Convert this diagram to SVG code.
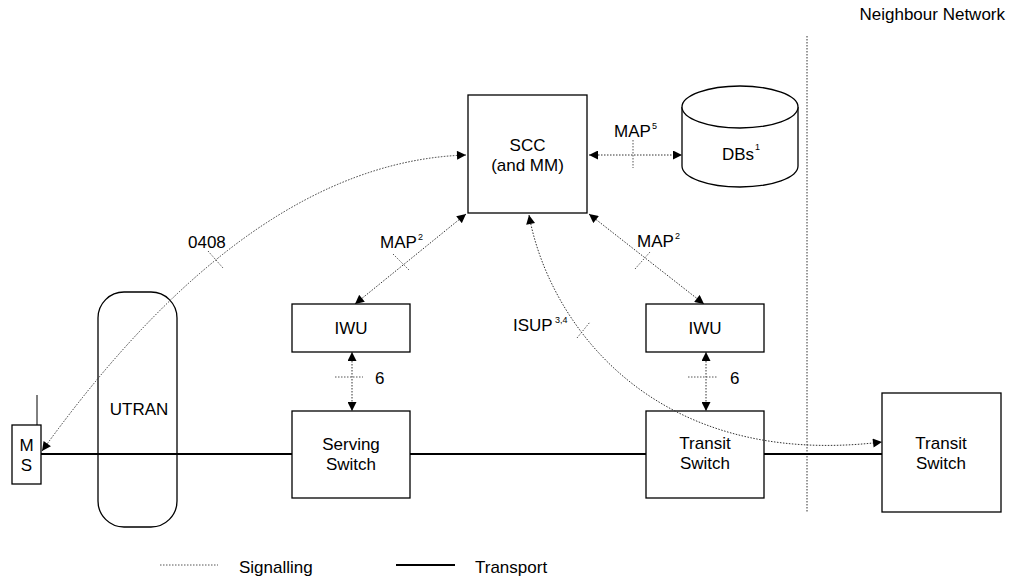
<svg xmlns="http://www.w3.org/2000/svg" width="1009" height="576" viewBox="0 0 1009 576">
<defs>
<marker id="ah" viewBox="0 0 10 10" markerUnits="userSpaceOnUse" markerWidth="10" markerHeight="9" refX="10" refY="5" orient="auto-start-reverse">
<path d="M0,0 L10,5 L0,10 z" fill="#000"/>
</marker>
<style>
.box{fill:#fff;stroke:#000;stroke-width:1.3}
.shape{fill:none;stroke:#000;stroke-width:1.3}
.sig{fill:none;stroke:#333;stroke-width:1;stroke-dasharray:1.5 1.5}
.tick{fill:none;stroke:#555;stroke-width:1;stroke-dasharray:1.5 1.5}
.tr{fill:none;stroke:#000;stroke-width:2}
text{font-family:"Liberation Sans",Arial,sans-serif;font-size:17px;fill:#000}
.c{text-anchor:middle}
.sup{font-size:9px}
</style>
</defs>
<rect width="1009" height="576" fill="#fff"/>

<g id="neighbour-boundary">
<line x1="807" y1="36" x2="807" y2="512" class="sig"/>
<text x="1005" y="20" text-anchor="end">Neighbour Network</text>
</g>

<g id="utran">
<rect x="98" y="292" width="79" height="235" rx="26" ry="26" class="shape"/>
<text x="139" y="415" class="c">UTRAN</text>
</g>

<g id="transport">
<line x1="41" y1="454" x2="292" y2="454" class="tr"/>
<line x1="410" y1="454" x2="646" y2="454" class="tr"/>
<line x1="764" y1="454" x2="882" y2="454" class="tr"/>
</g>

<g id="ms">
<line x1="37" y1="395" x2="37" y2="425" stroke="#000" stroke-width="1"/>
<rect x="12" y="425" width="29" height="59" class="box"/>
<text x="26.5" y="451" class="c">M</text>
<text x="26.5" y="471" class="c">S</text>
</g>

<g id="scc">
<rect x="468" y="95" width="119" height="118" class="box"/>
<text x="527.5" y="151" class="c">SCC</text>
<text x="527.5" y="171" class="c">(and MM)</text>
</g>

<g id="dbs">
<path d="M682,107 L682,166 A58,21 0 0 0 798,166 L798,107" class="box"/>
<ellipse cx="740" cy="107" rx="58" ry="21" class="box"/>
<text x="722" y="160">DBs</text>
<text x="755" y="150" class="sup">1</text>
</g>

<g id="iwu-serving">
<rect x="292" y="304" width="118" height="48" class="box"/>
<text x="351" y="334" class="c">IWU</text>
</g>

<g id="serving-switch">
<rect x="292" y="411" width="118" height="87" class="box"/>
<text x="351" y="450" class="c">Serving</text>
<text x="351" y="470" class="c">Switch</text>
</g>

<g id="iwu-transit">
<rect x="646" y="304" width="118" height="48" class="box"/>
<text x="705" y="334" class="c">IWU</text>
</g>

<g id="transit-switch">
<rect x="646" y="411" width="118" height="87" class="box"/>
<text x="705" y="449" class="c">Transit</text>
<text x="705" y="469" class="c">Switch</text>
</g>

<g id="transit-switch-neighbour">
<rect x="882" y="393" width="119" height="119" class="box"/>
<text x="941" y="449" class="c">Transit</text>
<text x="941" y="469" class="c">Switch</text>
</g>

<g id="connectors">
<path d="M42,451 Q250,162 466,155" class="sig" marker-start="url(#ah)" marker-end="url(#ah)"/>
<line x1="208" y1="251" x2="223" y2="268" class="tick"/>
<text x="188" y="248">0408</text>

<line x1="589" y1="155" x2="682" y2="155" class="sig" marker-start="url(#ah)" marker-end="url(#ah)"/>
<line x1="633" y1="140" x2="633" y2="168" class="tick"/>
<text x="614" y="137">MAP</text>
<text x="652" y="129" class="sup">5</text>

<line x1="466" y1="214" x2="355" y2="304" class="sig" marker-start="url(#ah)" marker-end="url(#ah)"/>
<line x1="393" y1="254" x2="409" y2="270" class="tick"/>
<text x="380" y="248">MAP</text>
<text x="418" y="240" class="sup">2</text>

<line x1="589" y1="214" x2="704" y2="304" class="sig" marker-start="url(#ah)" marker-end="url(#ah)"/>
<line x1="635" y1="269" x2="650" y2="252" class="tick"/>
<text x="637" y="247">MAP</text>
<text x="675" y="239" class="sup">2</text>

<path d="M529,215 C548,320 650,470 882,442" class="sig" marker-start="url(#ah)" marker-end="url(#ah)"/>
<line x1="577" y1="338" x2="590" y2="322" class="tick"/>
<text x="513" y="331">ISUP</text>
<text x="555" y="323" class="sup">3,4</text>

<line x1="352" y1="352" x2="352" y2="411" class="sig" marker-start="url(#ah)" marker-end="url(#ah)"/>
<line x1="335" y1="377" x2="363" y2="377" class="tick"/>
<text x="375" y="384">6</text>

<line x1="706" y1="352" x2="706" y2="411" class="sig" marker-start="url(#ah)" marker-end="url(#ah)"/>
<line x1="688" y1="377" x2="717" y2="377" class="tick"/>
<text x="730" y="384">6</text>
</g>

<g id="legend">
<line x1="160" y1="565" x2="218" y2="565" class="tick"/>
<text x="239" y="573">Signalling</text>
<line x1="396" y1="565" x2="455" y2="565" class="tr"/>
<text x="475" y="573">Transport</text>
</g>
</svg>
